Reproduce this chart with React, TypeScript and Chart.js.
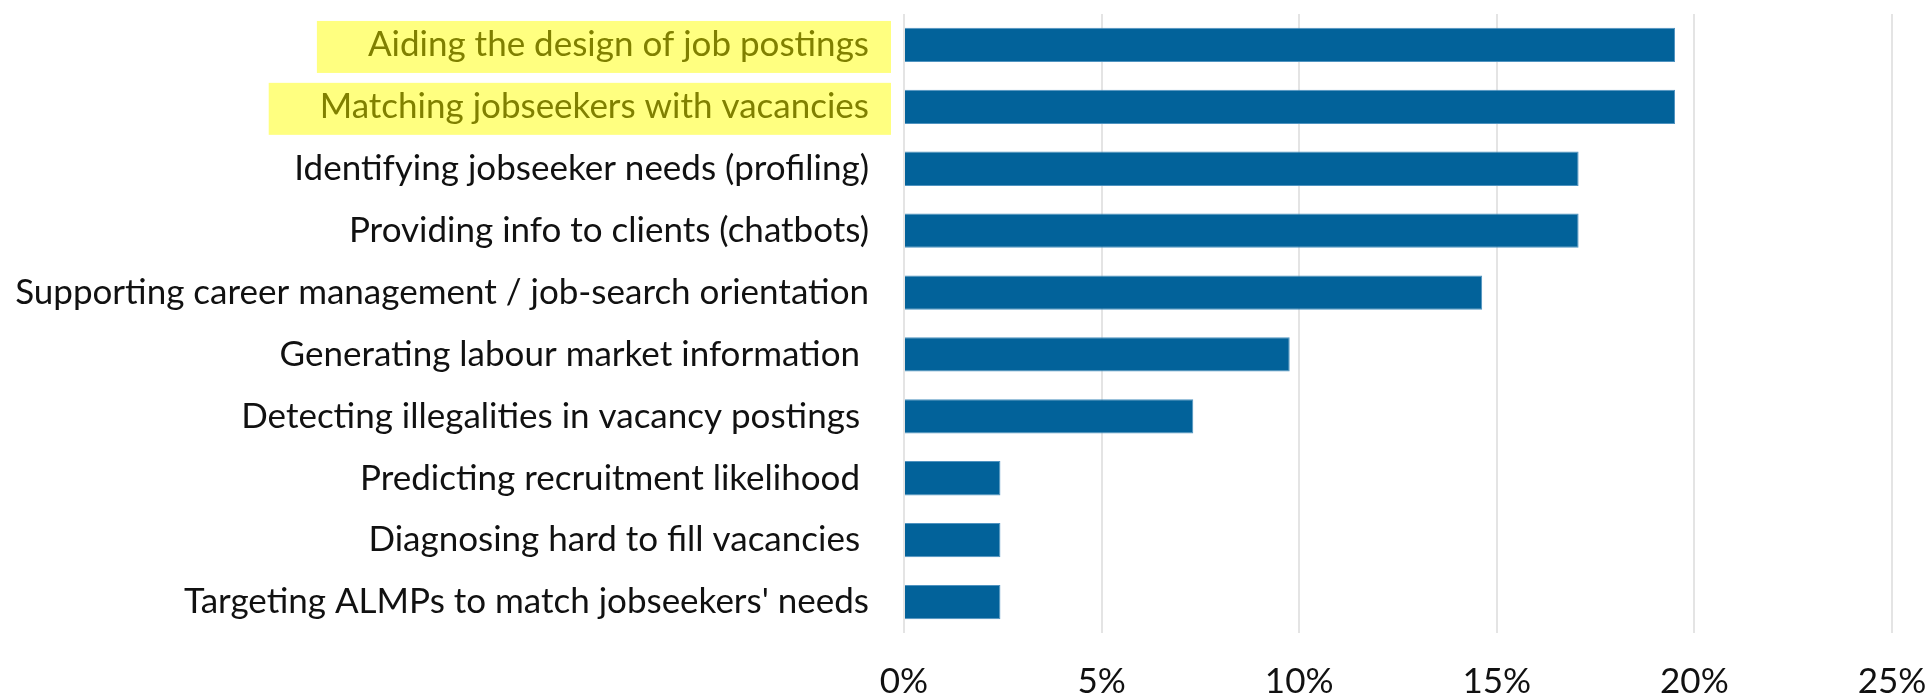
import React, { useEffect, useRef } from "react";
import { Chart, registerables } from "chart.js";

Chart.register(...registerables);

const categories: string[] = [
  "Aiding the design of job postings",
  "Matching jobseekers with vacancies",
  "Identifying jobseeker needs (profiling)",
  "Providing info to clients (chatbots)",
  "Supporting career management / job-search orientation",
  "Generating labour market information ",
  "Detecting illegalities in vacancy postings ",
  "Predicting recruitment likelihood ",
  "Diagnosing hard to fill vacancies ",
  "Targeting ALMPs to match jobseekers' needs",
];

const shares: number[] = [19.51, 19.51, 17.07, 17.07, 14.63, 9.76, 7.32, 2.44, 2.44, 2.44];

const highlighted: number[] = [0, 1];

const xTicks: number[] = [0, 5, 10, 15, 20, 25];

const FONT = "Lato";
const FONT_SIZE = 35;

export default function App() {
  const ref = useRef<HTMLCanvasElement | null>(null);

  useEffect(() => {
    document.body.style.margin = "0";
    const canvas = ref.current;
    if (!canvas) return;
    const chart = new Chart(canvas, {
      type: "bar",
      data: {
        labels: categories,
        datasets: [
          {
            data: shares,
            backgroundColor: "#02629A",
            borderColor: "#4f93c0",
            borderWidth: 1,
            barPercentage: 0.554,
            categoryPercentage: 1,
          },
        ],
      },
      options: {
        indexAxis: "y",
        responsive: false,
        animation: false,
        devicePixelRatio: 1,
        layout: { padding: { left: 0, right: 36, top: 14, bottom: 0 } },
        plugins: {
          legend: { display: false },
          tooltip: { enabled: false },
          title: { display: false },
        },
        scales: {
          x: {
            type: "linear",
            min: xTicks[0],
            max: xTicks[xTicks.length - 1],
            afterBuildTicks: (scale: any) => {
              scale.ticks = xTicks.map((v) => ({ value: v }));
            },
            afterFit: (scale: any) => {
              scale.height = 62;
              scale.paddingLeft = 0;
              scale.paddingRight = 0;
            },
            grid: {
              display: true,
              color: "#e4e4e4",
              lineWidth: 2,
              drawTicks: false,
            },
            border: { display: false },
            ticks: {
              padding: 28,
              color: "#111111",
              font: { family: FONT, size: FONT_SIZE },
              callback: (v: any) => v + "%",
              maxRotation: 0,
            },
          },
          y: {
            type: "category",
            afterFit: (scale: any) => {
              scale.width = 904;
              scale.paddingTop = 0;
              scale.paddingBottom = 0;
            },
            grid: { display: false, drawTicks: false },
            border: { display: false },
            ticks: {
              padding: 35,
              autoSkip: false,
              font: { family: FONT, size: FONT_SIZE },
              color: (ctx: any) => (highlighted.includes(ctx.index) ? "#808000" : "#111111"),
              showLabelBackdrop: (ctx: any) => highlighted.includes(ctx.index),
              backdropColor: "#FFFF80",
              backdropPadding: { left: 51, right: 22, top: 3, bottom: 7 },
            } as any,
          },
        },
      },
    });
    return () => chart.destroy();
  }, []);

  return (
    <div style={{ width: 1928, height: 695, background: "#ffffff" }}>
      <canvas ref={ref} width={1928} height={695} style={{ display: "block" }} />
    </div>
  );
}
